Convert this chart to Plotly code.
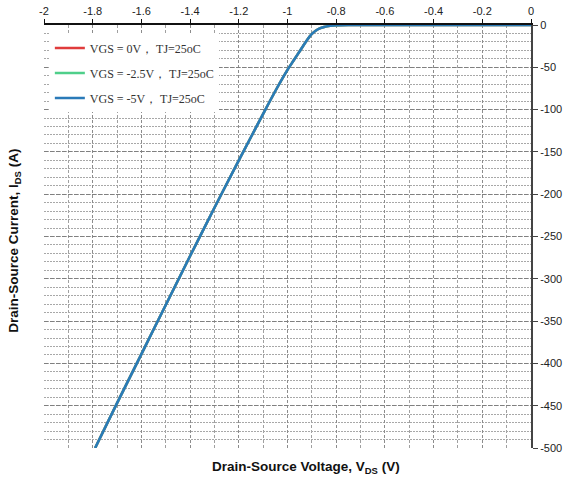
import plotly.graph_objects as go

# Drain-source voltage (V) and current (A)
vds = [0, -0.2, -0.4, -0.6, -0.75, -0.8, -0.825, -0.85, -0.875, -0.9, -0.925, -0.95,
       -0.975, -1.0, -1.05, -1.1, -1.2, -1.3, -1.4, -1.5, -1.6, -1.7, -1.79]
ids_vgs_0 = [0, 0, 0, 0, 0, -0.3, -1, -2.4, -5, -10.5, -20, -31,
             -42, -53, -78, -105, -160, -216, -273, -331, -389, -447, -500]
ids_vgs_m25 = [0, 0, 0, 0, 0, -0.3, -1, -2.4, -5, -10.5, -20, -31,
               -42, -53, -78, -105, -160, -216, -273, -331, -389, -447, -500]
ids_vgs_m5 = [0, 0, 0, 0, 0, -0.3, -1, -2.4, -5, -10.5, -20, -31,
              -42, -53, -78, -105, -160, -216, -273, -331, -389, -447, -500]

series_names = ["VGS = 0V\uff0c TJ=25oC", "VGS = -2.5V\uff0c TJ=25oC", "VGS = -5V\uff0c TJ=25oC"]
series_colors = ["#e03c3c", "#4fcf8a", "#2a7ab8"]
series_values = [ids_vgs_0, ids_vgs_m25, ids_vgs_m5]

x_ticks = [-2, -1.8, -1.6, -1.4, -1.2, -1, -0.8, -0.6, -0.4, -0.2, 0]
x_tick_labels = ["-2", "-1.8", "-1.6", "-1.4", "-1.2", "-1", "-0.8", "-0.6", "-0.4", "-0.2", "0"]
y_ticks = [0, -50, -100, -150, -200, -250, -300, -350, -400, -450, -500]
y_tick_labels = ["0", "-50", "-100", "-150", "-200", "-250", "-300", "-350", "-400", "-450", "-500"]

fig = go.Figure()
for i, (name, color, vals) in enumerate(zip(series_names, series_colors, series_values)):
    fig.add_trace(go.Scatter(
        x=vds, y=vals, mode="lines", name=name,
        line=dict(color=color, width=2.5, shape="spline", smoothing=0.4),
        legendgroup=f"g{i}",
    ))

fig.update_layout(
    width=563, height=481,
    margin=dict(l=44, r=32, t=25, b=33),
    paper_bgcolor="white", plot_bgcolor="white",
    font=dict(family="Arial, Liberation Sans, sans-serif", size=11, color="#222"),
    showlegend=True,
    legend=dict(
        x=0.012, y=0.98, xanchor="left", yanchor="top",
        bgcolor="white", borderwidth=0,
        font=dict(family="Liberation Serif, Times New Roman, serif", size=12, color="#333"),
        tracegroupgap=6,
        traceorder="grouped",
        itemwidth=30,
    ),
    xaxis=dict(
        side="top", range=[-2, 0], tickmode="array", tickvals=x_ticks, ticktext=x_tick_labels,
        automargin=False,
        showline=True, linecolor="#111", linewidth=2, mirror=False,
        ticks="outside", ticklen=4, tickcolor="#111", tickwidth=1,
        showgrid=True, gridcolor="#8c8c8c", griddash="3px,2px", gridwidth=1,
        minor=dict(dtick=0.1, showgrid=True, gridcolor="#a0a0a0", griddash="3px,2px", gridwidth=1),
        zeroline=False,
    ),
    yaxis=dict(
        side="right", range=[-500, 0], tickmode="array", tickvals=y_ticks, ticktext=y_tick_labels,
        automargin=False,
        showline=True, linecolor="#444", linewidth=2,
        ticks="outside", ticklen=5, tickcolor="#444", tickwidth=1,
        showgrid=True, gridcolor="#808080", griddash="4px,2px", gridwidth=1,
        minor=dict(dtick=10, showgrid=True, gridcolor="#a8a8a8", griddash="2px,1px", gridwidth=1),
        zeroline=False,
    ),
    annotations=[
        dict(text="<b>Drain-Source Voltage, V<sub>DS</sub> (V)</b>", xref="paper", yref="paper",
             x=0.537, y=0, yshift=-19, xanchor="center", yanchor="middle", showarrow=False,
             font=dict(family="Arial, Liberation Sans, sans-serif", size=13.5, color="#111")),
        dict(text="<b>Drain-Source Current, I<sub>DS</sub> (A)</b>", xref="paper", yref="paper",
             x=0, xshift=-29, y=0.49, xanchor="center", yanchor="middle", textangle=-90,
             showarrow=False,
             font=dict(family="Arial, Liberation Sans, sans-serif", size=13.5, color="#111")),
    ],
)

fig.write_html(
    "out.html",
    config={"displayModeBar": False},
    post_script="document.body.style.margin='0';document.body.style.overflow='hidden';",
)
